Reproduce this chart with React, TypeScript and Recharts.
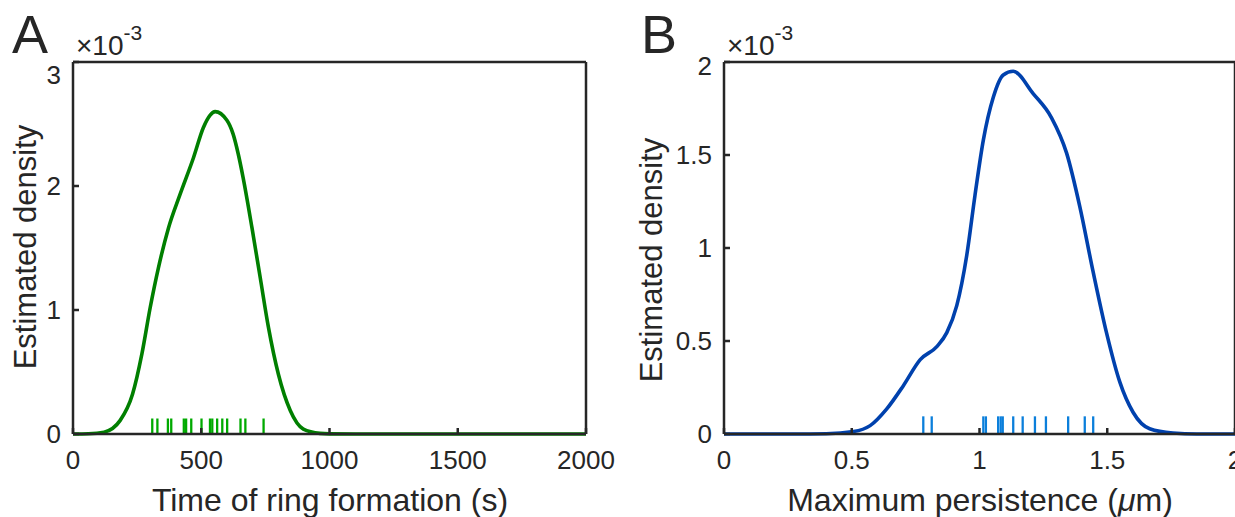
import { ComposedChart, Line, XAxis, YAxis, ReferenceLine } from 'recharts';

// Panel A: time of ring formation (s), density in units of 1e-3
const timeX = [0, 60, 121, 184, 232, 269, 301, 333, 372, 417, 470, 508, 534, 554, 600, 624, 644, 663, 698, 730, 762, 801, 847, 898, 963, 1000, 1100, 1500, 2000];
const timeDensity = [0, 0.002, 0.015, 0.11, 0.32, 0.65, 1.02, 1.34, 1.66, 1.93, 2.23, 2.47, 2.57, 2.6, 2.53, 2.42, 2.26, 2.07, 1.66, 1.26, 0.86, 0.48, 0.19, 0.04, 0.005, 0.001, 0, 0, 0];
const timeRug = [309, 329, 370, 383, 432, 441, 461, 501, 534, 543, 562, 582, 601, 653, 672, 743];
const timeTicks = [0, 500, 1000, 1500, 2000];
const timeDensityTicks = [0, 1, 2, 3];

// Panel B: maximum persistence (um), density in units of 1e-3
const persX = [0, 0.3, 0.4, 0.507, 0.572, 0.637, 0.702, 0.768, 0.833, 0.872, 0.911, 0.95, 0.982, 1.015, 1.054, 1.093, 1.132, 1.21, 1.282, 1.341, 1.393, 1.445, 1.497, 1.549, 1.601, 1.666, 1.757, 1.85, 2];
const persDensity = [0, 0, 0.001, 0.013, 0.045, 0.135, 0.26, 0.4, 0.47, 0.545, 0.69, 0.96, 1.28, 1.58, 1.81, 1.93, 1.95, 1.83, 1.7, 1.51, 1.22, 0.87, 0.545, 0.28, 0.117, 0.028, 0.005, 0, 0];
const persRug = [0.78, 0.813, 1.015, 1.025, 1.073, 1.083, 1.091, 1.132, 1.169, 1.217, 1.26, 1.347, 1.412, 1.445];
const persTicks = [0, 0.5, 1, 1.5, 2];
const persDensityTicks = [0, 0.5, 1, 1.5, 2];

const ink = '#262626';
const font = '"Liberation Sans", Arial, Helvetica, sans-serif';

type PanelProps = {
  left: number;
  width: number;
  yAxisWidth: number;
  rightMargin: number;
  xs: number[];
  ys: number[];
  rug: number[];
  rugTop: number;
  xTicks: number[];
  yTicks: number[];
  topLabelShift: number;
  lineColor: string;
  rugColor: string;
};

function DensityPanel(p: PanelProps) {
  const data = p.xs.map((x, i) => ({ x, y: p.ys[i] }));
  const xDomain = [p.xTicks[0], p.xTicks[p.xTicks.length - 1]];
  const yMax = p.yTicks[p.yTicks.length - 1];
  const yDomain = [p.yTicks[0], yMax];
  const axisLine = { stroke: ink, strokeWidth: 2.5 };
  const tickLine = { stroke: ink, strokeWidth: 2.5 };

  // y tick labels, the top one nudged down a little as in the original
  const yTick = (t: any) => (
    <text
      x={t.x}
      y={t.y + (t.payload.value === yMax ? p.topLabelShift : 0)}
      dy="0.355em"
      textAnchor="end"
      fill={ink}
      fontSize={26}
      fontFamily={font}
    >
      {t.payload.value}
    </text>
  );

  return (
    <div style={{ position: 'absolute', left: p.left, top: 0 }}>
      <ComposedChart width={p.width} height={517} data={data} margin={{ top: 61, right: p.rightMargin, bottom: 0, left: 0 }}>
        <XAxis
          dataKey="x"
          type="number"
          domain={xDomain}
          ticks={p.xTicks}
          interval={0}
          height={83}
          tickSize={-6}
          tickMargin={23}
          axisLine={axisLine}
          tickLine={tickLine}
          tick={{ fill: ink, fontSize: 26, fontFamily: font }}
        />
        <XAxis xAxisId="top" dataKey="x" orientation="top" type="number" domain={xDomain} ticks={p.xTicks} interval={0} height={1} tickSize={-6} axisLine={axisLine} tickLine={tickLine} tick={false} />
        <YAxis
          type="number"
          domain={yDomain}
          ticks={p.yTicks}
          interval={0}
          width={p.yAxisWidth}
          tickSize={-6}
          tickMargin={18}
          axisLine={axisLine}
          tickLine={tickLine}
          tick={yTick}
        />
        <YAxis yAxisId="right" orientation="right" type="number" domain={yDomain} ticks={p.yTicks} interval={0} width={1} tickSize={-6} axisLine={axisLine} tickLine={tickLine} tick={false} />
        {p.rug.map((v, i) => (
          <ReferenceLine key={i} segment={[{ x: v, y: 0 }, { x: v, y: p.rugTop }]} stroke={p.rugColor} strokeWidth={2.3} />
        ))}
        <Line xAxisId="top" yAxisId="right" dataKey="y" type="monotone" stroke="none" strokeWidth={0} dot={false} activeDot={false} isAnimationActive={false} />
        <Line dataKey="y" type="monotone" stroke={p.lineColor} strokeWidth={3.6} dot={false} isAnimationActive={false} />
      </ComposedChart>
    </div>
  );
}

export default function App() {
  return (
    <div style={{ position: 'absolute', left: 0, top: 0, width: 1235, height: 517, overflow: 'hidden', background: '#fff' }}>
      <DensityPanel
        left={0}
        width={620}
        yAxisWidth={73}
        rightMargin={33}
        xs={timeX}
        ys={timeDensity}
        rug={timeRug}
        rugTop={0.125}
        xTicks={timeTicks}
        yTicks={timeDensityTicks}
        topLabelShift={13}
        lineColor="#007F00"
        rugColor="#00AA00"
      />
      <DensityPanel
        left={620}
        width={640}
        yAxisWidth={104}
        rightMargin={24}
        xs={persX}
        ys={persDensity}
        rug={persRug}
        rugTop={0.095}
        xTicks={persTicks}
        yTicks={persDensityTicks}
        topLabelShift={4}
        lineColor="#0041AD"
        rugColor="#0B7FDB"
      />
      <svg width={1235} height={517} style={{ position: 'absolute', left: 0, top: 0, pointerEvents: 'none' }} fontFamily={font} fill={ink}>
        <text x={12} y={53} fontSize={54}>A</text>
        <text x={641} y={53} fontSize={54}>B</text>
        <text x={76} y={55} fontSize={28}>×10<tspan dy={-15} fontSize={21}>-3</tspan></text>
        <text x={727} y={55} fontSize={28}>×10<tspan dy={-15} fontSize={21}>-3</tspan></text>
        <text x={330} y={511} fontSize={32} textAnchor="middle">Time of ring formation (s)</text>
        <text x={980} y={511} fontSize={32} textAnchor="middle">
          Maximum persistence (<tspan fontStyle="italic">μ</tspan>m)
        </text>
        <text transform="translate(36,247) rotate(-90)" fontSize={31} textAnchor="middle">Estimated density</text>
        <text transform="translate(662,260) rotate(-90)" fontSize={31} textAnchor="middle">Estimated density</text>
      </svg>
    </div>
  );
}
